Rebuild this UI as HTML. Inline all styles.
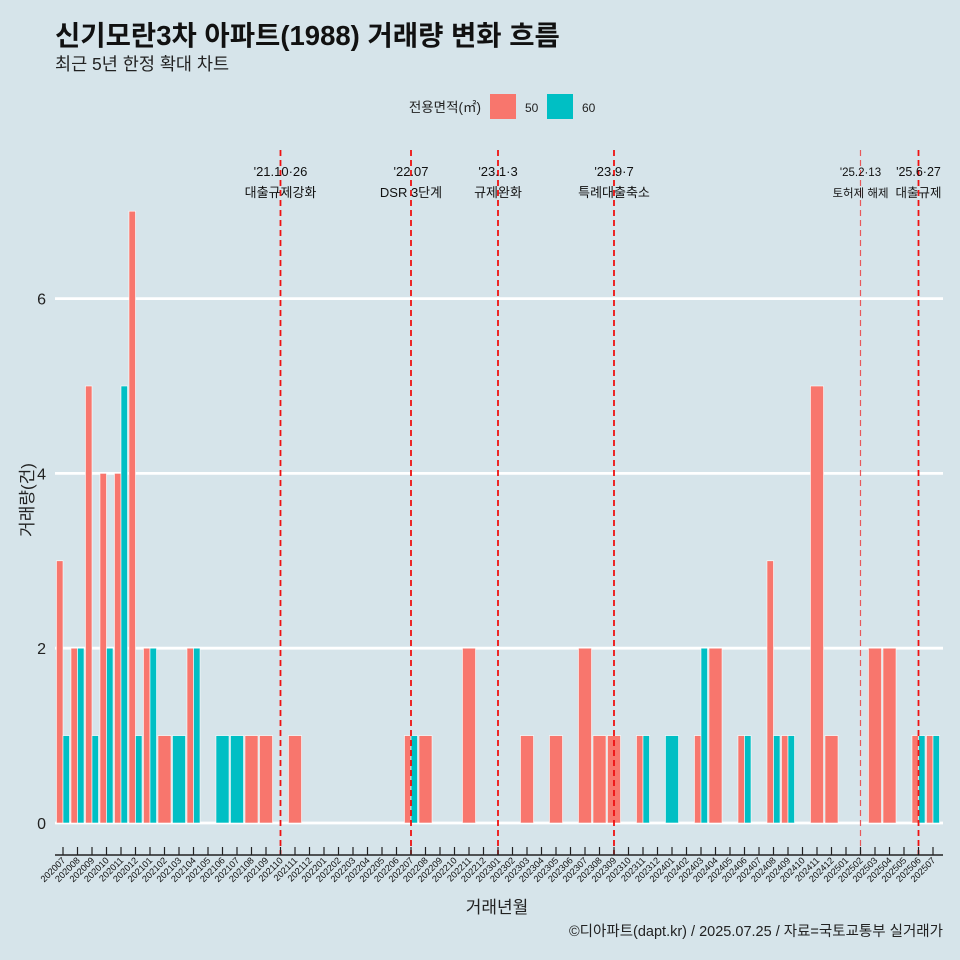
<!DOCTYPE html>
<html><head><meta charset="utf-8"><style>
body{margin:0;background:#d6e4ea;}
svg{display:block;font-family:"Liberation Sans","Noto Sans CJK KR",sans-serif;}
</style></head><body>
<svg id="chart" width="960" height="960" viewBox="0 0 960 960">
<rect x="0" y="0" width="960" height="960" fill="#d6e4ea"/>
<text x="55" y="45" font-size="27.5" font-weight="bold" fill="#111">신기모란3차 아파트(1988) 거래량 변화 흐름</text>
<text x="55" y="70" font-size="17.5" fill="#222">최근 5년 한정 확대 차트</text>
<g>
<text x="481" y="112" font-size="13.5" text-anchor="end" fill="#222">전용면적(㎡)</text>
<rect x="490" y="94" width="26" height="25" fill="#F8766D"/>
<text x="525" y="112" font-size="12" fill="#222">50</text>
<rect x="547" y="94" width="26" height="25" fill="#00BFC4"/>
<text x="582" y="112" font-size="12" fill="#222">60</text>
</g>
<g id="grid"></g><g id="bars"></g><g id="events"></g><g id="axes"></g>
<text transform="translate(33,500) rotate(-90)" font-size="17" text-anchor="middle" fill="#222">거래량(건)</text>
<text x="497" y="913" font-size="17" text-anchor="middle" fill="#222">거래년월</text>
<text x="943" y="936" font-size="14.5" text-anchor="end" fill="#222">©디아파트(dapt.kr) / 2025.07.25 / 자료=국토교통부 실거래가</text>
</svg>
<script>
const months = ["202007","202008","202009","202010","202011","202012","202101","202102","202103","202104","202105","202106","202107","202108","202109","202110","202111","202112","202201","202202","202203","202204","202205","202206","202207","202208","202209","202210","202211","202212","202301","202302","202303","202304","202305","202306","202307","202308","202309","202310","202311","202312","202401","202402","202403","202404","202405","202406","202407","202408","202409","202410","202411","202412","202501","202502","202503","202504","202505","202506","202507"];
const series50 = [3,2,5,4,4,7,2,1,0,2,0,0,0,1,1,0,1,0,0,0,0,0,0,0,1,1,0,0,2,0,0,0,1,0,1,0,2,1,1,0,1,0,0,0,1,2,0,1,0,3,1,0,5,1,0,0,2,2,0,1,1];
const series60 = [1,2,1,2,5,1,2,0,1,2,0,1,1,0,0,0,0,0,0,0,0,0,0,0,1,0,0,0,0,0,0,0,0,0,0,0,0,0,0,0,1,0,1,0,2,0,0,1,0,1,1,0,0,0,0,0,0,0,0,1,1];
const yTicks = [0,2,4,6];
const events = [
 {date:"2021-10-26", l1:"'21.10·26", l2:"대출규제강화", fs:13, thin:false},
 {date:"2022-07-01", l1:"'22.07", l2:"DSR 3단계", fs:13, thin:false},
 {date:"2023-01-03", l1:"'23.1·3", l2:"규제완화", fs:13, thin:false},
 {date:"2023-09-07", l1:"'23.9·7", l2:"특례대출축소", fs:13, thin:false},
 {date:"2025-02-13", l1:"'25.2·13", l2:"토허제 해제", fs:11.5, thin:true},
 {date:"2025-06-27", l1:"'25.6·27", l2:"대출규제", fs:12.5, thin:false}
];
const NS="http://www.w3.org/2000/svg";
const x0=63, step=14.5, yBase=823, unit=87.4, plotL=55, plotR=943;
function xScale(i){return x0+i*step;}
function yScale(v){return yBase-v*unit;}
function xDate(s){const y=+s.slice(0,4),m=+s.slice(5,7);const idx=(y-2020)*12+(m-7);return xScale(idx);}
function mk(tag,attrs,parent){const e=document.createElementNS(NS,tag);for(const k in attrs)e.setAttribute(k,attrs[k]);parent.appendChild(e);return e;}
const grid=document.getElementById('grid'),bars=document.getElementById('bars'),ev=document.getElementById('events'),axes=document.getElementById('axes');
yTicks.forEach(t=>{
 const l=mk('line',{x1:plotL,x2:plotR,y1:yScale(t),y2:yScale(t),stroke:'#fff','stroke-width':2.8},grid);
 
 
 const tx=mk('text',{x:46,y:yScale(t)+6,'font-size':16,'text-anchor':'end',fill:'#222'},axes);
 tx.textContent=t;
 
 
});
const bw=13.05;
months.forEach((m,i)=>{
 const c=xScale(i),a=series50[i],b=series60[i];
 const both=a>0&&b>0;
 if(a>0){const r=mk('rect',{x:c-bw/2,y:yScale(a),width:both?bw/2:bw,height:a*unit,fill:'#F8766D',stroke:'#fff','stroke-width':0.6},bars);
  
  }
 if(b>0){const r=mk('rect',{x:both?c:c-bw/2,y:yScale(b),width:both?bw/2:bw,height:b*unit,fill:'#00BFC4',stroke:'#fff','stroke-width':0.6},bars);
  
  }
 const tk=mk('line',{x1:c,x2:c,y1:847,y2:855,stroke:'#222','stroke-width':1.2},axes);
 
 
 const tl=mk('text',{transform:`translate(${c+3},861) rotate(-45)`,'font-size':9.2,'text-anchor':'end',fill:'#111'},axes);
 tl.textContent=m;
 
 
});
const ax=mk('line',{x1:plotL,x2:plotR,y1:855,y2:855,stroke:'#222','stroke-width':1.5},axes);


events.forEach(e=>{
 const x=xDate(e.date);
 const l=mk('line',{x1:x,x2:x,y1:150,y2:855,stroke:e.thin?'#e8585a':'#ee1111','stroke-width':e.thin?1.2:1.8,'stroke-dasharray':'6,4'},ev);
 
 
 const t1=mk('text',{x:x,y:176,'font-size':e.fs,'text-anchor':'middle',fill:'#111'},ev);
 t1.textContent=e.l1;
 
 
 const t2=mk('text',{x:x,y:197,'font-size':e.fs,'text-anchor':'middle',fill:'#111'},ev);
 t2.textContent=e.l2;
 
 
});
</script>
</body></html>
